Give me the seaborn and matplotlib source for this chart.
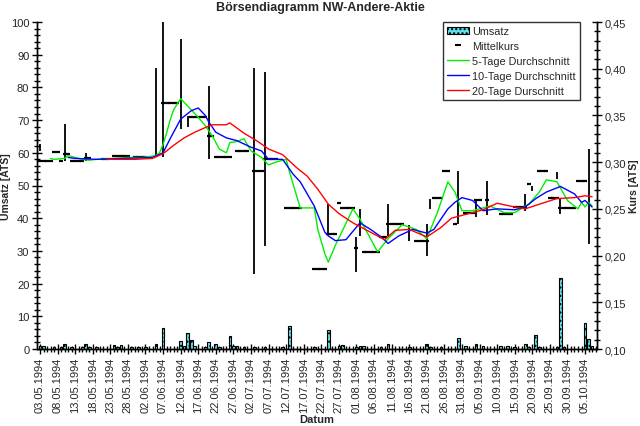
"""
Börsendiagramm NW-Andere-Aktie: Umsatz (bars), Mittelkurs, high/low and moving averages.
"""

import numpy as np
import pandas as pd
import matplotlib
matplotlib.use("Agg")
import matplotlib.pyplot as plt
import seaborn as sns
from matplotlib.ticker import MultipleLocator, FixedLocator, FuncFormatter
from matplotlib.patches import Patch
from matplotlib.lines import Line2D

# ---------------------------------------------------------------------------
# Data (day offsets from 03.05.1994, prices in ATS)
# ---------------------------------------------------------------------------
START = pd.Timestamp("1994-05-03")
N_DAYS = 159

vol_days = [0, 1, 4, 6, 7, 9, 12, 13, 14, 16, 21, 22, 23, 26, 28, 30, 33, 35, 40, 41,
            42, 43, 44, 47, 48, 50, 51, 54, 55, 56, 58, 61, 64, 69, 71, 78, 82, 85, 86, 90,
            91, 92, 97, 99, 105, 110, 111, 114, 119, 121, 124, 126, 131, 133, 135, 138, 139,
            141, 142, 147, 148, 149, 155, 156, 157]
umsatz = [0.8, 0.8, 0.5, 0.6, 1.5, 0.7, 0.6, 1.5, 0.5, 0.5, 1.2, 0.6, 1.3, 0.6, 0.6, 0.5,
          1.5, 6.3, 2.3, 1.0, 5.0, 2.8, 1.0, 0.5, 2.0, 1.5, 0.7, 3.9, 0.8, 0.8, 0.5, 0.5,
          0.7, 0.6, 7.0, 0.6, 5.7, 1.0, 1.2, 0.6, 1.0, 1.0, 0.6, 1.5, 0.6, 1.5, 0.6, 0.6,
          3.3, 1.0, 1.5, 0.8, 0.8, 0.8, 0.6, 1.5, 0.6, 4.4, 0.7, 0.7, 21.8, 0.7, 8.0, 3.0,
          1.0]

# Mittelkurs: runs of consecutive days at the same price
mk_from = [0, 4, 6, 7, 9, 13, 18, 21, 27, 35, 43, 48, 50, 56, 61, 64, 70, 78, 82, 85,
           86, 90, 92, 97, 99, 107, 112, 115, 118, 121, 124, 127, 131, 135, 139, 142, 145,
           148, 153]
mk_to = [3, 5, 6, 8, 12, 14, 19, 25, 30, 39, 47, 49, 54, 59, 63, 67, 74, 81, 84, 85,
         89, 90, 96, 98, 103, 110, 114, 116, 118, 123, 125, 127, 134, 138, 139, 144, 147,
         152, 155]
mk_kurs = [0.301, 0.311, 0.301, 0.309, 0.301, 0.304, 0.303, 0.307, 0.305, 0.363, 0.348,
           0.328, 0.306, 0.312, 0.291, 0.303, 0.251, 0.186, 0.223, 0.256, 0.251, 0.208,
           0.204, 0.220, 0.234, 0.216, 0.262, 0.290, 0.234, 0.246, 0.259, 0.259, 0.245,
           0.252, 0.277, 0.290, 0.262, 0.251, 0.280]

# Tageshoch / Tagestief
hl_days = [0, 7, 13, 33, 35, 40, 42, 48, 61, 64, 82, 90, 91, 99, 105, 110, 111, 119,
           124, 127, 138, 140, 147, 148, 156]
hl_high = [0.319, 0.341, 0.310, 0.401, 0.460, 0.432, 0.349, 0.381, 0.401, 0.396, 0.255,
           0.220, 0.250, 0.255, 0.233, 0.234, 0.261, 0.291, 0.261, 0.280, 0.266, 0.275,
           0.289, 0.262, 0.314]
hl_low = [0.312, 0.301, 0.301, 0.307, 0.305, 0.336, 0.338, 0.303, 0.180, 0.210, 0.222,
          0.182, 0.221, 0.221, 0.216, 0.200, 0.250, 0.234, 0.241, 0.243, 0.248, 0.269,
          0.282, 0.245, 0.212]

ma5_days = [3, 4, 7, 8, 10, 12, 14, 16, 21, 25, 29, 33, 34, 35, 36, 37, 38, 40, 42, 43,
            45, 47, 49, 51, 53, 54, 56, 58, 60, 63, 65, 67, 70, 71, 74, 78, 79, 81, 82, 84,
            89, 91, 96, 99, 103, 107, 110, 113, 116, 118, 120, 123, 128, 132, 135, 139, 142,
            144, 147, 150, 153, 154, 155, 156, 157]
ma5 = [0.304, 0.303, 0.304, 0.307, 0.305, 0.303, 0.302, 0.303, 0.304, 0.305, 0.305,
       0.307, 0.310, 0.319, 0.331, 0.345, 0.356, 0.368, 0.360, 0.356, 0.348, 0.339, 0.328,
       0.314, 0.310, 0.321, 0.322, 0.325, 0.312, 0.305, 0.297, 0.300, 0.303, 0.289, 0.251,
       0.251, 0.228, 0.202, 0.193, 0.211, 0.250, 0.239, 0.204, 0.218, 0.233, 0.228, 0.218,
       0.246, 0.279, 0.268, 0.248, 0.248, 0.253, 0.246, 0.246, 0.255, 0.268, 0.281, 0.279,
       0.259, 0.250, 0.257, 0.252, 0.257, 0.253]

ma10_days = [8, 10, 16, 32, 35, 37, 40, 43, 45, 47, 48, 50, 53, 54, 56, 60, 63, 65, 69,
             72, 74, 76, 78, 81, 82, 84, 87, 91, 94, 97, 99, 102, 106, 110, 112, 116, 118,
             120, 123, 126, 130, 135, 138, 141, 144, 148, 152, 154, 155, 157]
ma10 = [0.305, 0.304, 0.303, 0.305, 0.310, 0.325, 0.346, 0.355, 0.358, 0.350, 0.343,
        0.332, 0.326, 0.325, 0.323, 0.316, 0.312, 0.303, 0.303, 0.287, 0.279, 0.266, 0.253,
        0.225, 0.221, 0.216, 0.217, 0.235, 0.228, 0.220, 0.213, 0.221, 0.228, 0.224, 0.228,
        0.250, 0.257, 0.262, 0.259, 0.248, 0.250, 0.249, 0.252, 0.261, 0.268, 0.274, 0.266,
        0.257, 0.259, 0.252]

ma20_days = [19, 27, 32, 35, 38, 41, 44, 47, 49, 53, 54, 58, 62, 65, 69, 73, 76, 79, 82,
             85, 89, 93, 98, 101, 105, 110, 114, 117, 121, 126, 130, 135, 138, 142, 147,
             152, 155, 157]
ma20 = [0.303, 0.303, 0.304, 0.309, 0.318, 0.326, 0.332, 0.337, 0.340, 0.340, 0.342,
        0.331, 0.322, 0.314, 0.308, 0.294, 0.285, 0.271, 0.255, 0.245, 0.235, 0.227, 0.217,
        0.227, 0.228, 0.220, 0.230, 0.240, 0.244, 0.249, 0.256, 0.252, 0.250, 0.255, 0.261,
        0.262, 0.264, 0.263]

# ---------------------------------------------------------------------------
# Plot
# ---------------------------------------------------------------------------
sns.set_theme(style="white")
plt.rcParams["font.family"] = ["Liberation Sans", "DejaVu Sans"]

fig = plt.figure(figsize=(6.4, 4.27), dpi=100)
ax = fig.add_axes([37 / 640, 1 - 350 / 427, 560 / 640, 327 / 427])
ax2 = ax.twinx()

# Umsatz bars
ax.bar(vol_days, umsatz, width=0.75, color="#5fe3ea", edgecolor="black",
       linewidth=0.8, hatch="....", zorder=2)

# Mittelkurs dashes (one per day)
mk_days = np.concatenate([np.arange(a, b + 1) for a, b in zip(mk_from, mk_to)])
mk_vals = np.concatenate([[k] * (b - a + 1) for a, b, k in zip(mk_from, mk_to, mk_kurs)])
ax2.plot(mk_days, mk_vals, linestyle="none", marker="_", markersize=2.3,
         markeredgewidth=1.6, color="black", zorder=3)

# High/low lines
ax2.vlines(hl_days, hl_low, hl_high, color="black", linewidth=1.3, zorder=3)

# Moving averages
sns.lineplot(x=ma5_days, y=ma5, ax=ax2, color="#00ee00", linewidth=1, zorder=4)
sns.lineplot(x=ma10_days, y=ma10, ax=ax2, color="#0000ff", linewidth=1, zorder=5)
sns.lineplot(x=ma20_days, y=ma20, ax=ax2, color="#ff0000", linewidth=1, zorder=6)

# Axes limits and ticks
ax.set_xlim(-0.85, 158.4)
ax.set_ylim(0, 100)
ax2.set_ylim(0.10, 0.45)

dates = pd.date_range(START, periods=N_DAYS, freq="D")
major = list(range(0, N_DAYS, 5))
ax.xaxis.set_major_locator(FixedLocator(major))
ax.xaxis.set_minor_locator(MultipleLocator(1))
ax.set_xticklabels([dates[d].strftime("%d.%m.%Y") for d in major], rotation=90)

ax.yaxis.set_major_locator(MultipleLocator(10))
ax.yaxis.set_minor_locator(MultipleLocator(2))
ax2.yaxis.set_major_locator(MultipleLocator(0.05))
ax2.yaxis.set_minor_locator(MultipleLocator(0.01))
ax2.yaxis.set_major_formatter(FuncFormatter(lambda v, _: f"{v:.2f}".replace(".", ",")))

for a in (ax, ax2):
    a.tick_params(which="major", direction="inout", length=7, width=1, labelsize=8,
                  color="black", pad=2)
    a.tick_params(which="minor", direction="inout", length=5, width=1, color="black")
    for s in a.spines.values():
        s.set_color("black")
        s.set_linewidth(1)
    a.spines["top"].set_visible(False)
ax.tick_params(axis="x", which="both", bottom=True)
ax.tick_params(axis="y", which="both", left=True)
ax2.tick_params(axis="y", which="both", right=True)
ax.grid(False)
ax2.grid(False)

ax.set_xlabel("Datum", fontsize=8, fontweight="bold", labelpad=1)
ax.set_ylabel("Umsatz [ATS]", fontsize=7.5, fontweight="bold")
ax.yaxis.set_label_coords(-0.046, 0.5)
ax2.set_ylabel("Kurs [ATS]", fontsize=7.5, fontweight="bold")
ax2.yaxis.set_label_coords(1.058, 0.5)
fig.suptitle("Börsendiagramm NW-Andere-Aktie", fontsize=9, fontweight="bold", y=0.995)

# Legend
handles = [
    Patch(facecolor="#5fe3ea", edgecolor="black", hatch="....", linewidth=0.8),
    Line2D([], [], linestyle="none", marker="_", markersize=4, markeredgewidth=1.5,
           color="black"),
    Line2D([], [], color="#00ee00", linewidth=1),
    Line2D([], [], color="#0000ff", linewidth=1),
    Line2D([], [], color="#ff0000", linewidth=1),
]
labels = ["Umsatz", "Mittelkurs", "5-Tage Durchschnitt", "10-Tage Durchschnitt",
          "20-Tage Durschnitt"]
leg = ax2.legend(handles, labels, loc="upper left", bbox_to_anchor=(0.725, 1.0),
                 fontsize=7.8, frameon=True, fancybox=False, edgecolor="black",
                 borderaxespad=0, handlelength=2.0, handletextpad=0.3,
                 labelspacing=0.45, borderpad=0.4)
leg.get_frame().set_linewidth(1)

fig.savefig("out.png", dpi=100)
plt.close(fig)
